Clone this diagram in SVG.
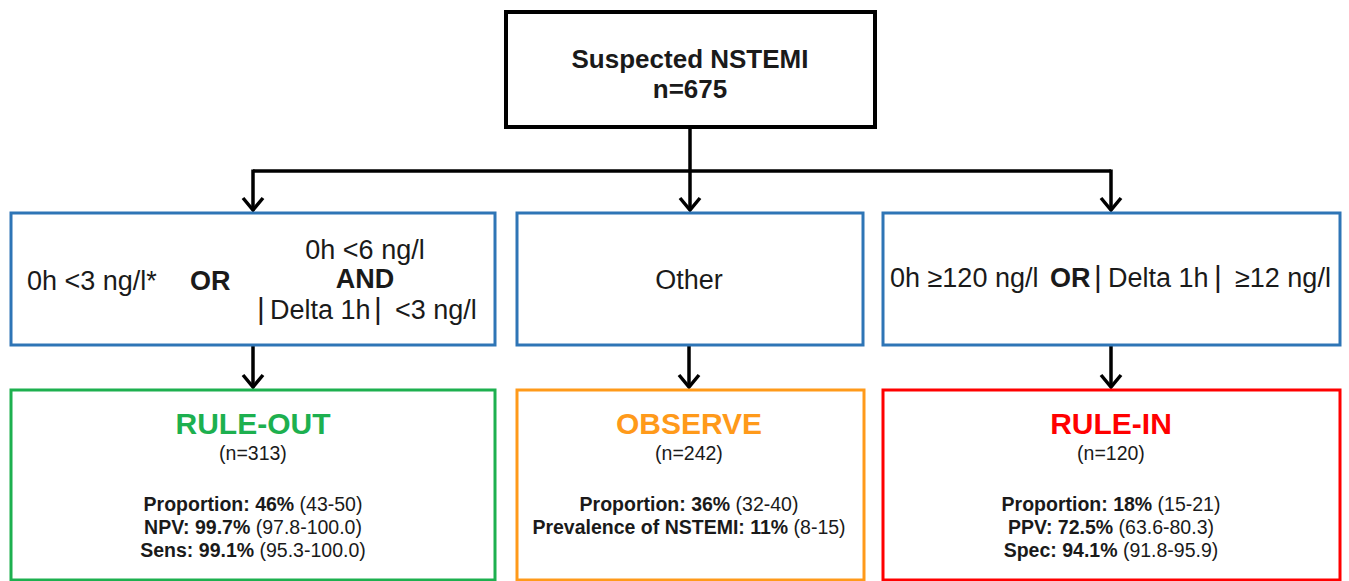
<svg xmlns="http://www.w3.org/2000/svg" width="1349" height="581" viewBox="0 0 1349 581">
<style>
text{font-family:"Liberation Sans",Arial,sans-serif;fill:#1a1a1a}
.b{font-weight:bold}
.t{font-size:26px;text-anchor:middle;font-weight:bold}
.c{font-size:27px}
.h{font-size:30px;font-weight:bold;text-anchor:middle}
.n{font-size:19.5px;text-anchor:middle}
.s{font-size:19.5px;text-anchor:middle}
.bar{font-size:30px;font-weight:normal}
.blue{fill:#fff;stroke:#2E75B6;stroke-width:3}
.line{fill:none;stroke:#000;stroke-width:3.5}
.head{fill:none;stroke:#000;stroke-width:3.5}
</style>
<rect width="1349" height="581" fill="#fff"/>
<g id="connectors">
<path class="line" d="M690,127 V209"/>
<path class="line" d="M253,171 H1111"/>
<path class="line" d="M253,169.5 V209"/>
<path class="line" d="M1111,169.5 V209"/>
<path class="line" d="M253,345 V387"/>
<path class="line" d="M689,345 V387"/>
<path class="line" d="M1111,345 V387"/>
<path class="head" d="M243,198 L253,210 L263,198"/>
<path class="head" d="M680,198 L690,210 L700,198"/>
<path class="head" d="M1101,198 L1111,210 L1121,198"/>
<path class="head" d="M243,375 L253,387 L263,375"/>
<path class="head" d="M679,375 L689,387 L699,375"/>
<path class="head" d="M1101,375 L1111,387 L1121,375"/>
</g>
<g id="start">
<rect x="506" y="12" width="369" height="115" fill="#fff" stroke="#000" stroke-width="4"/>
<text class="t" x="690" y="68">Suspected NSTEMI</text>
<text class="t" x="690" y="98">n=675</text>
</g>
<g id="crit-ruleout">
<rect class="blue" x="11" y="213" width="484" height="132"/>
<text class="c" x="27" y="290">0h &lt;3 ng/l*</text>
<text class="c b" x="190" y="290">OR</text>
<text class="c" x="365" y="259" text-anchor="middle">0h &lt;6 ng/l</text>
<text class="c b" x="365" y="288" text-anchor="middle">AND</text>
<text class="c" y="319"><tspan class="bar" x="257">|</tspan><tspan x="270">Delta 1h</tspan><tspan class="bar" x="374">|</tspan><tspan x="395">&lt;3 ng/l</tspan></text>
</g>
<g id="crit-observe">
<rect class="blue" x="517" y="213" width="346" height="132"/>
<text class="c" x="689" y="289" text-anchor="middle">Other</text>
</g>
<g id="crit-rulein">
<rect class="blue" x="883" y="213" width="457" height="132"/>
<text class="c" y="287"><tspan x="890">0h ≥120 ng/l</tspan><tspan class="b" x="1050">OR</tspan><tspan class="bar" x="1094">|</tspan><tspan x="1108">Delta 1h</tspan><tspan class="bar" x="1214">|</tspan><tspan x="1235">≥12 ng/l</tspan></text>
</g>
<g id="ruleout">
<rect x="11" y="390" width="484" height="190" fill="#fff" stroke="#1DB04F" stroke-width="3"/>
<text class="h" x="253" y="434" style="fill:#1DB04F">RULE-OUT</text>
<text class="n" x="253" y="460">(n=313)</text>
<text class="s" x="253" y="511"><tspan class="b">Proportion: 46%</tspan> (43-50)</text>
<text class="s" x="253" y="534"><tspan class="b">NPV: 99.7%</tspan> (97.8-100.0)</text>
<text class="s" x="253" y="557"><tspan class="b">Sens: 99.1%</tspan> (95.3-100.0)</text>
</g>
<g id="observe">
<rect x="517" y="390" width="347" height="190" fill="#fff" stroke="#FF9A1A" stroke-width="3"/>
<text class="h" x="689" y="434" style="fill:#FF9A1A">OBSERVE</text>
<text class="n" x="689" y="460">(n=242)</text>
<text class="s" x="689" y="511"><tspan class="b">Proportion: 36%</tspan> (32-40)</text>
<text class="s" x="689" y="534"><tspan class="b">Prevalence of NSTEMI: 11%</tspan> (8-15)</text>
</g>
<g id="rulein">
<rect x="883" y="390" width="457" height="190" fill="#fff" stroke="#FF0000" stroke-width="3"/>
<text class="h" x="1111" y="434" style="fill:#FF0000">RULE-IN</text>
<text class="n" x="1111" y="460">(n=120)</text>
<text class="s" x="1111" y="511"><tspan class="b">Proportion: 18%</tspan> (15-21)</text>
<text class="s" x="1111" y="534"><tspan class="b">PPV: 72.5%</tspan> (63.6-80.3)</text>
<text class="s" x="1111" y="557"><tspan class="b">Spec: 94.1%</tspan> (91.8-95.9)</text>
</g>
</svg>
